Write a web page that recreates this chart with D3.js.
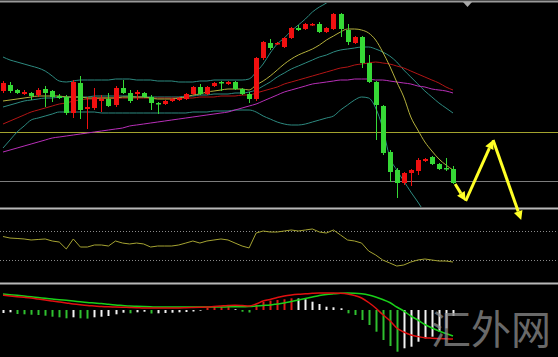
<!DOCTYPE html>
<html>
<head>
<meta charset="utf-8">
<script src="https://cdn.jsdelivr.net/npm/d3@7"></script>
<style>
  html, body { margin: 0; padding: 0; background: #000; }
  svg { display: block; }
</style>
</head>
<body>
<svg id="canvas" width="558" height="357"></svg>
<script>
// candles, oldest first (65 bars)
let open = [1.1409,1.1415,1.1410,1.1406,1.1407,1.1405,1.1411,1.1409,1.1404,1.1403,
  1.1387,1.1417,1.1391,1.1392,1.1399,1.1401,1.1395,1.1412,1.1407,1.1406,
  1.1407,1.1403,1.1397,1.1396,1.1399,1.1400,1.1401,1.1406,1.1413,1.1406,
  1.1414,1.1418,1.1416,1.1418,1.1411,1.1406,1.1401,1.1442,1.1457,1.1456,
  1.1453,1.1462,1.1472,1.1471,1.1475,1.1476,1.1468,1.1471,1.1486,1.1470,
  1.1457,1.1463,1.1437,1.1418,1.1394,1.1348,1.1330,1.1317,1.1327,1.1329,
  1.1339,1.1343,1.1336,1.1332,1.1331]
let high = [1.1419,1.1418,1.1411,1.1410,1.1408,1.1412,1.1414,1.1410,1.1406,1.1405,
  1.1420,1.1424,1.1403,1.1412,1.1405,1.1407,1.1414,1.1420,1.1410,1.1410,
  1.1408,1.1405,1.1398,1.1400,1.1402,1.1403,1.1407,1.1414,1.1416,1.1414,
  1.1418,1.1419,1.1419,1.1419,1.1412,1.1408,1.1443,1.1459,1.1461,1.1458,
  1.1463,1.1473,1.1475,1.1477,1.1477,1.1478,1.1473,1.1487,1.1487,1.1476,
  1.1464,1.1464,1.1445,1.1419,1.1395,1.1350,1.1332,1.1328,1.1331,1.1342,
  1.1342,1.1344,1.1337,1.1342,1.1334]
let low = [1.1407,1.1407,1.1406,1.1405,1.1400,1.1403,1.1393,1.1398,1.1401,1.1385,
  1.1382,1.1381,1.1371,1.1390,1.1388,1.1393,1.1393,1.1406,1.1397,1.1400,
  1.1402,1.1390,1.1386,1.1395,1.1398,1.1399,1.1400,1.1405,1.1405,1.1405,
  1.1413,1.1409,1.1415,1.1410,1.1405,1.1397,1.1399,1.1440,1.1450,1.1455,
  1.1452,1.1461,1.1469,1.1470,1.1474,1.1467,1.1467,1.1470,1.1463,1.1455,
  1.1456,1.1432,1.1417,1.1360,1.1345,1.1318,1.1302,1.1315,1.1314,1.1325,
  1.1338,1.1335,1.1330,1.1329,1.1316]
let close = [1.1417,1.1409,1.1407,1.1408,1.1404,1.1410,1.1407,1.1403,1.1402,1.1387,
  1.1418,1.1390,1.1393,1.1403,1.1401,1.1394,1.1412,1.1407,1.1399,1.1408,
  1.1403,1.1397,1.1396,1.1399,1.1401,1.1402,1.1406,1.1413,1.1406,1.1413,
  1.1417,1.1417,1.1418,1.1411,1.1406,1.1401,1.1442,1.1458,1.1452,1.1457,
  1.1462,1.1472,1.1470,1.1476,1.1476,1.1468,1.1472,1.1486,1.1471,1.1458,
  1.1463,1.1437,1.1418,1.1395,1.1347,1.1328,1.1317,1.1327,1.1330,1.1340,
  1.1341,1.1336,1.1331,1.1331,1.1317]

// bollinger bands (null = outside the window)
let bbUpper = [1.1443,1.1440,1.1438,1.1436,1.1434,1.1432,1.1429,1.1424,1.1419,1.1418,
  1.1419,1.1420,1.1420,1.1420,1.1420,1.1420,1.1421,1.1421,1.1421,1.1420,
  1.1420,1.1420,1.1419,1.1419,1.1419,1.1418,1.1418,1.1418,1.1419,1.1419,
  1.1420,1.1420,1.1420,1.1420,1.1420,1.1421,1.1428,1.1436,1.1447,1.1456,
  1.1462,1.1469,1.1475,1.1481,1.1488,1.1493,1.1497,1.1503,null,null,
  null,null,null,null,null,null,null,null,null,null,
  null,null,null,null,null]
let bbMid = [1.1393,1.1395,1.1397,1.1399,1.1400,1.1401,1.1402,1.1402,1.1403,1.1403,
  1.1403,1.1403,1.1403,1.1404,1.1404,1.1404,1.1404,1.1404,1.1404,1.1403,
  1.1403,1.1403,1.1403,1.1403,1.1403,1.1403,1.1404,1.1404,1.1405,1.1405,
  1.1406,1.1406,1.1406,1.1407,1.1407,1.1408,1.1410,1.1414,1.1418,1.1423,
  1.1427,1.1431,1.1434,1.1437,1.1440,1.1443,1.1445,1.1448,1.1450,1.1451,
  1.1452,1.1453,1.1453,1.1451,1.1448,1.1444,1.1438,1.1430,1.1423,1.1416,
  1.1409,1.1403,1.1397,1.1392,1.1387]
let bbLower = [1.1352,1.1360,1.1368,1.1374,1.1380,1.1382,1.1384,1.1386,1.1388,1.1388,
  1.1388,1.1388,1.1388,1.1388,1.1387,1.1387,1.1387,1.1387,1.1387,1.1387,
  1.1387,1.1387,1.1387,1.1387,1.1387,1.1387,1.1387,1.1388,1.1388,1.1388,
  1.1389,1.1389,1.1389,1.1390,1.1390,1.1390,1.1388,1.1384,1.1381,1.1378,
  1.1376,1.1375,1.1375,1.1376,1.1378,1.1380,1.1382,1.1384,1.1390,1.1395,
  1.1400,1.1403,1.1402,1.1392,1.1372,1.1343,1.1330,1.1319,1.1308,1.1298,
  1.1287,null,null,null,null]

// moving averages
let maYellow = [1.1399,1.1400,1.1401,1.1402,1.1403,1.1404,1.1404,1.1404,1.1404,1.1403,
  1.1403,1.1403,1.1402,1.1402,1.1402,1.1402,1.1402,1.1403,1.1403,1.1403,
  1.1403,1.1402,1.1401,1.1401,1.1401,1.1402,1.1403,1.1405,1.1406,1.1408,
  1.1409,1.1410,1.1411,1.1411,1.1411,1.1410,1.1415,1.1419,1.1424,1.1430,
  1.1436,1.1441,1.1445,1.1448,1.1451,1.1455,1.1460,1.1464,1.1468,1.1471,
  1.1471,1.1470,1.1467,1.1460,1.1448,1.1434,1.1418,1.1403,1.1383,1.1370,
  1.1358,1.1349,1.1341,1.1335,1.1330]
let maRed = [1.1376,1.1379,1.1382,1.1385,1.1388,1.1390,1.1392,1.1394,1.1396,1.1397,
  1.1399,1.1400,1.1401,1.1401,1.1402,1.1402,1.1402,1.1402,1.1402,1.1402,
  1.1402,1.1402,1.1402,1.1402,1.1402,1.1402,1.1402,1.1402,1.1403,1.1403,
  1.1403,1.1404,1.1404,1.1404,1.1405,1.1405,1.1407,1.1409,1.1411,1.1413,
  1.1416,1.1418,1.1420,1.1422,1.1424,1.1426,1.1428,1.1430,1.1432,1.1433,
  1.1435,1.1436,1.1437,1.1438,1.1437,1.1436,1.1434,1.1432,1.1429,1.1426,
  1.1423,1.1420,1.1417,1.1413,1.1410]
let maPurple = [1.1348,1.1350,1.1352,1.1354,1.1356,1.1358,1.1360,1.1362,1.1363,1.1364,
  1.1365,1.1366,1.1367,1.1368,1.1369,1.1370,1.1371,1.1372,1.1374,1.1375,
  1.1376,1.1377,1.1378,1.1379,1.1380,1.1381,1.1382,1.1383,1.1384,1.1385,
  1.1386,1.1387,1.1388,1.1390,1.1392,1.1394,1.1396,1.1399,1.1402,1.1405,
  1.1408,1.1410,1.1412,1.1414,1.1416,1.1417,1.1418,1.1419,1.1420,1.1420,
  1.1421,1.1421,1.1421,1.1420,1.1420,1.1419,1.1418,1.1417,1.1416,1.1414,
  1.1413,1.1411,1.1410,1.1409,1.1407]

// horizontal levels drawn on the price window
let levels = [1.1368, 1.1319]

// forecast zigzag (bar index, price)
let forecastIdx = [64.3, 65.8, 69.7, 73.7]
let forecastPrice = [1.1316, 1.1299, 1.1360, 1.1280]

// RSI
let rsi = [62.4,60.3,59.7,59.0,57.6,58.3,59.0,56.2,54.8,45.2,
  59.0,47.9,47.9,50.7,50.7,49.3,56.2,53.4,52.1,53.4,
  52.1,47.9,49.3,49.3,49.3,50.7,53.4,56.2,53.4,56.2,
  57.6,59.0,57.6,53.4,49.3,46.6,67.2,70.0,68.6,68.6,
  70.0,71.4,70.0,71.4,72.8,68.6,67.2,71.4,64.5,57.6,
  56.2,53.4,42.4,36.9,30.0,25.9,21.7,23.1,27.2,30.0,
  31.4,30.0,28.6,28.6,27.2]
let rsiLevels = [70, 30]

// MACD (points)
let dif = [14.7,14,13.3,12.7,12,11,10,9,8,7,
  6,5.2,4.5,4,3.5,3.2,3,2.8,2.5,2.3,
  2,2,2,2,2,2,2.2,2.5,2.8,3,
  3.5,4,4.5,4.8,4.5,4,6,9,10.5,12.5,
  14,15,15.7,16.2,16.7,17,17,17,16.7,16,
  14.5,12,7.5,2,-4.5,-10.5,-18,-22,-25,-26.5,
  -27.7,-28.2,-28.6,-28.8,-29]
let dea = [16,15.3,14.7,14,13.2,12.5,11.7,11,10.3,9.7,
  9,8.2,7.5,7,6.5,5.7,5,4.5,4,3.7,
  3.4,3.2,3,3,3,3,3,3,3,3,
  3,3,3.2,3.3,3.3,3.5,4,4.5,5,6,
  7,8.5,10,11.5,13,14.5,15.5,16.2,16.8,17,
  16.8,16.2,15,13,10.5,7.5,3,-1,-6,-10,
  -14.5,-18,-21,-23.5,-26]
let hist = [-3,-2.3,-4,-4.3,-4.7,-5,-5.7,-6.7,-7.3,-8.3,
  -7.3,-8.3,-8.6,-7.3,-6.7,-6,-4.3,-2.7,-3.3,-2.3,
  -1.7,-3.5,-3.3,-3,-2.7,-2.3,-2,-1.5,-0.7,2,
  3,3.3,3.5,0.8,-1.7,-2.5,5,8,9.3,10,
  10.7,11.7,11.5,10.7,8.3,6,3.3,2.7,1.7,-3.3,
  -5,-10,-15,-21.7,-30,-36,-41.7,-38.3,-36.7,-31.7,
  -28.3,-26.7,-21.7,-18.3,-6]

let width = 558
let height = 357

let canvas = d3.select('#canvas')
canvas.append('rect').attr('width', width).attr('height', height).attr('fill', '#000')

let x = d3.scaleLinear().domain([0, 64]).range([3, 453])
let y = d3.scaleLinear().domain([1.13, 1.15]).range([200, 0])
let yRsi = d3.scaleLinear().domain([0, 100]).range([281.75, 209.25])
let yMacd = d3.scaleLinear().domain([-47, 25]).range([357, 285])

let defs = canvas.append('defs')
let clip = (id, top, bottom) => {
  defs.append('clipPath').attr('id', id)
    .append('rect').attr('x', 0).attr('y', top).attr('width', width).attr('height', bottom - top)
}
clip('clipMain', 3, 207)
clip('clipRsi', 210, 282)
clip('clipMacd', 285, 357)

// ---------- price window ----------
let main = canvas.append('g').attr('clip-path', 'url(#clipMain)')

main.selectAll('line.level')
  .data(levels)
  .enter()
  .append('line')
  .attr('class', 'level')
  .attr('x1', 0).attr('x2', width)
  .attr('y1', d => Math.round(y(d)) + 0.5)
  .attr('y2', d => Math.round(y(d)) + 0.5)
  .attr('stroke', (d, i) => i == 0 ? '#a3a32e' : '#7c7c7c')
  .attr('stroke-width', 1)

let priceLine = d3.line()
  .defined(d => d != null)
  .x((d, i) => x(i))
  .y(d => y(d))
  .curve(d3.curveMonotoneX)

let overlays = [
  { values: bbUpper, color: '#2d8a80' },
  { values: bbMid, color: '#2d8a80' },
  { values: bbLower, color: '#2d8a80' },
  { values: maPurple, color: '#b82fb8' },
  { values: maRed, color: '#b31515' },
  { values: maYellow, color: '#b4b03c' }
]

main.selectAll('path.overlay')
  .data(overlays)
  .enter()
  .append('path')
  .attr('class', 'overlay')
  .attr('d', d => priceLine(d.values))
  .attr('fill', 'none')
  .attr('stroke', d => d.color)
  .attr('stroke-width', 1)

let candleColor = (i) => close[i] >= open[i] ? '#f01010' : '#36d936'

let candles = main.selectAll('g.candle')
  .data(d3.range(open.length))
  .enter()
  .append('g')
  .attr('class', 'candle')

candles.append('line')
  .attr('x1', i => Math.round(x(i)) + 0.5)
  .attr('x2', i => Math.round(x(i)) + 0.5)
  .attr('y1', i => y(high[i]))
  .attr('y2', i => y(low[i]))
  .attr('stroke', candleColor)

candles.append('rect')
  .attr('x', i => Math.round(x(i)) - 2)
  .attr('width', 5)
  .attr('y', i => y(Math.max(open[i], close[i])))
  .attr('height', i => Math.max(1.5, Math.abs(y(open[i]) - y(close[i]))))
  .attr('fill', candleColor)

// ---------- RSI window ----------
let rsiG = canvas.append('g').attr('clip-path', 'url(#clipRsi)')

rsiG.selectAll('line.lvl')
  .data(rsiLevels)
  .enter()
  .append('line')
  .attr('class', 'lvl')
  .attr('x1', 0).attr('x2', width)
  .attr('y1', d => Math.round(yRsi(d)) + 0.5)
  .attr('y2', d => Math.round(yRsi(d)) + 0.5)
  .attr('stroke', '#8a8a8a')
  .attr('stroke-dasharray', '1,2')

rsiG.append('path')
  .attr('d', d3.line().x((d, i) => x(i)).y(d => yRsi(d))(rsi))
  .attr('fill', 'none')
  .attr('stroke', '#a5a332')
  .attr('stroke-width', 1)

// ---------- MACD window ----------
let macdG = canvas.append('g').attr('clip-path', 'url(#clipMacd)')

let barColor = (d, i) => {
  let prev = i > 0 ? hist[i - 1] : d
  if (d >= 0) return d >= prev ? '#e01818' : '#f2f2f2'
  return d < prev ? '#2fc02f' : '#f2f2f2'
}

macdG.selectAll('line.bar')
  .data(hist)
  .enter()
  .append('line')
  .attr('class', 'bar')
  .attr('x1', (d, i) => Math.round(x(i)) + 0.5)
  .attr('x2', (d, i) => Math.round(x(i)) + 0.5)
  .attr('y1', yMacd(0))
  .attr('y2', d => yMacd(d))
  .attr('stroke', barColor)
  .attr('stroke-width', 2)

let macdLine = d3.line().x((d, i) => x(i)).y(d => yMacd(d)).curve(d3.curveMonotoneX)

macdG.append('path')
  .attr('d', macdLine(dea))
  .attr('fill', 'none')
  .attr('stroke', '#19d019')
  .attr('stroke-width', 1.5)

macdG.append('path')
  .attr('d', macdLine(dif))
  .attr('fill', 'none')
  .attr('stroke', '#e01010')
  .attr('stroke-width', 1.5)

// ---------- frame ----------
canvas.selectAll('line.sep')
  .data([1.5, 208.5, 283.5])
  .enter()
  .append('line')
  .attr('class', 'sep')
  .attr('x1', 0).attr('x2', width)
  .attr('y1', d => d).attr('y2', d => d)
  .attr('stroke', (d, i) => i == 0 ? '#9a9a9a' : '#b8b8b8')
  .attr('stroke-width', 2)

// little shift marker on top edge
canvas.append('path')
  .attr('d', 'M463,2 L472,2 L467.5,7 Z')
  .attr('fill', '#a8a8a8')

// ---------- forecast arrows ----------
let arrows = canvas.append('g')
for (let k = 0; k < forecastIdx.length - 1; k++) {
  let x0 = x(forecastIdx[k]), y0 = y(forecastPrice[k])
  let x1 = x(forecastIdx[k + 1]), y1 = y(forecastPrice[k + 1])
  let len = Math.hypot(x1 - x0, y1 - y0)
  let ux = (x1 - x0) / len, uy = (y1 - y0) / len
  let head = 9, half = 4.5
  let bx = x1 - ux * head, by = y1 - uy * head
  arrows.append('line')
    .attr('x1', x0).attr('y1', y0)
    .attr('x2', bx).attr('y2', by)
    .attr('stroke', '#ffff26')
    .attr('stroke-width', 3)
  arrows.append('path')
    .attr('d', 'M' + x1 + ',' + y1 +
      'L' + (bx - uy * half) + ',' + (by + ux * half) +
      'L' + (bx + uy * half) + ',' + (by - ux * half) + 'Z')
    .attr('fill', '#ffff26')
}

// watermark
canvas.append('text')
  .attr('x', 431)
  .attr('y', 344)
  .text('汇外网')
  .style('font-family', '"Noto Sans CJK SC", sans-serif')
  .style('font-size', '40px')
  .style('fill', '#8c8c8c')
  .style('opacity', 0.75)
</script>
</body>
</html>
